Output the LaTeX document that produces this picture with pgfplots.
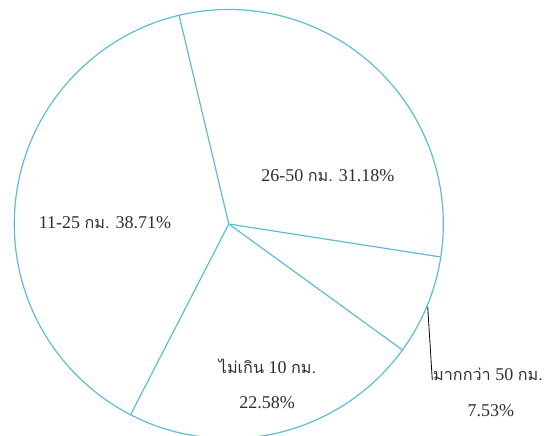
\documentclass[border=0pt]{standalone}
\usepackage{pgfplots}
\pgfplotsset{compat=1.18}
\usepackage{pgfplotstable}
\usepgfplotslibrary{polar}
\usepackage{fontspec}
\setmainfont{Liberation Serif}
\newfontfamily\thai[Script=Thai,Scale=0.9]{Loma}
\definecolor{piecol}{RGB}{96,188,212}
\definecolor{txt}{RGB}{45,45,45}

% slice boundaries: angle (deg) = 103.4 - 3.6 * cumulative share (0, 31.18, 38.71, 61.29 %)
\pgfplotstableread{
angle r
103.40 0
103.40 1
nan nan
-8.85 0
-8.85 1
nan nan
-35.96 0
-35.96 1
nan nan
-117.24 0
-117.24 1
}\bounds

\begin{document}
\begin{tikzpicture}[x=1bp,y=1bp]
\useasboundingbox (-228.8,-212) rectangle (320.2,224);
\begin{polaraxis}[at={(0,0)}, anchor=center, scale only axis,
  width=429bp, height=429bp, xmin=0, xmax=360, ymin=0, ymax=1,
  xtick=\empty, ytick=\empty, grid=none,
  axis line style={draw=piecol, line width=1.2bp},
  y axis line style={draw=none},
  unbounded coords=jump]
\addplot[draw=piecol, line width=1.2bp, no marks]
  table[x=angle, y=r] {\bounds};
\end{polaraxis}
\draw[black, line width=0.8bp] (198.9,-82.7) -- (203.5,-156);
\begin{scope}[every node/.style={text=txt, inner sep=0pt, font=\fontsize{18bp}{20bp}\selectfont}]
\node[anchor=base] at (99.1,42.3) {26-50 {\thai กม.} 31.18\%};
\node[anchor=base] at (-123.8,-4.3) {11-25 {\thai กม.} 38.71\%};
\node[anchor=base] at (38.7,-149.3) {{\thai ไม่เกิน} 10 {\thai กม.}};
\node[anchor=base] at (38.2,-185) {22.58\%};
\node[anchor=base west] at (204.2,-156.7) {{\thai มากกว่า} 50 {\thai กม.}};
\node[anchor=base] at (262,-192.7) {7.53\%};
\end{scope}
\end{tikzpicture}
\end{document}
